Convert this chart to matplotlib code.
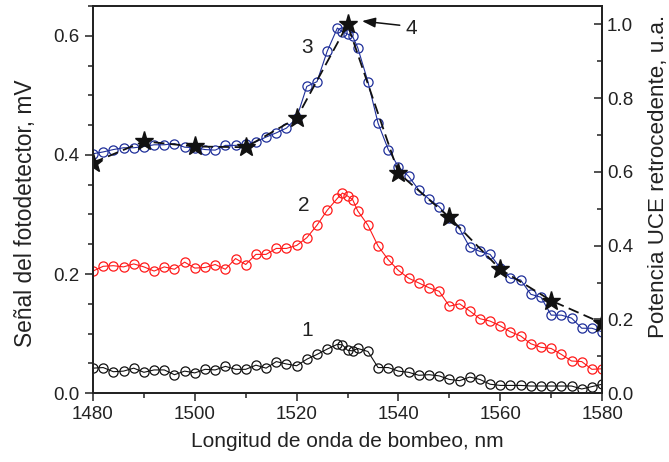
import numpy as np
import matplotlib
matplotlib.use('Agg')
from matplotlib import pyplot as plt
from matplotlib.ticker import MultipleLocator, FormatStrFormatter

plt.rcParams['font.family'] = ['Liberation Sans', 'DejaVu Sans']

# Longitudes de onda de bombeo (nm), mas densas cerca del pico
wl = np.array([1480, 1482, 1484, 1486, 1488, 1490, 1492, 1494, 1496, 1498,
               1500, 1502, 1504, 1506, 1508, 1510, 1512, 1514, 1516, 1518,
               1520, 1522, 1524, 1526, 1528, 1529, 1530, 1531, 1532, 1534,
               1536, 1538, 1540, 1542, 1544, 1546, 1548, 1550, 1552, 1554,
               1556, 1558, 1560, 1562, 1564, 1566, 1568, 1570, 1572, 1574,
               1576, 1578, 1580])

# Curva 1 (negro), mV
senal_1 = [0.042, 0.043, 0.036, 0.037, 0.042, 0.035, 0.039, 0.039, 0.031, 0.037,
           0.034, 0.040, 0.039, 0.045, 0.040, 0.040, 0.047, 0.042, 0.053, 0.049,
           0.046, 0.057, 0.065, 0.074, 0.082, 0.081, 0.072, 0.071, 0.075, 0.070,
           0.043, 0.043, 0.037, 0.035, 0.030, 0.031, 0.029, 0.023, 0.021, 0.027,
           0.023, 0.015, 0.013, 0.013, 0.013, 0.012, 0.012, 0.012, 0.012, 0.012,
           0.007, 0.011, 0.015]

# Curva 2 (rojo), mV
senal_2 = [0.205, 0.213, 0.214, 0.212, 0.217, 0.212, 0.205, 0.212, 0.208, 0.220,
           0.210, 0.211, 0.216, 0.208, 0.226, 0.216, 0.233, 0.233, 0.243, 0.243,
           0.248, 0.261, 0.282, 0.307, 0.327, 0.336, 0.331, 0.325, 0.306, 0.282,
           0.247, 0.224, 0.206, 0.193, 0.185, 0.177, 0.171, 0.146, 0.150, 0.138,
           0.125, 0.121, 0.113, 0.103, 0.096, 0.083, 0.077, 0.075, 0.065, 0.054,
           0.053, 0.040, 0.041]

# Curva 3 (azul), mV
senal_3 = [0.402, 0.405, 0.409, 0.412, 0.412, 0.414, 0.417, 0.417, 0.419, 0.413,
           0.412, 0.409, 0.408, 0.416, 0.416, 0.418, 0.422, 0.430, 0.437, 0.445,
           0.462, 0.515, 0.523, 0.574, 0.613, 0.607, 0.603, 0.599, 0.580, 0.523,
           0.453, 0.409, 0.380, 0.364, 0.341, 0.326, 0.313, 0.294, 0.276, 0.245,
           0.238, 0.233, 0.210, 0.193, 0.190, 0.166, 0.161, 0.131, 0.131, 0.126,
           0.109, 0.109, 0.103]

# Curva 4: potencia UCE retrocedente (u.a.)
wl_uce = [1480, 1490, 1500, 1510, 1520, 1530, 1540, 1550, 1560, 1570, 1580]
pot_uce = [0.625, 0.683, 0.669, 0.667, 0.746, 1.0, 0.597, 0.477, 0.336, 0.251, 0.190]

fig = plt.figure(figsize=(6.69, 4.62), dpi=100)
ax = fig.add_axes([0.139, 0.149, 0.761, 0.838])

circ = dict(marker='o', markersize=6.6, markerfacecolor='none', markeredgewidth=0.9, linewidth=0.8)
ax.plot(wl, senal_1, color='#111111', **circ)
ax.plot(wl, senal_2, color='#ff1a1a', **circ)
ax.plot(wl, senal_3, color='#1f2f9a', **circ)

ax.set_xlim(1480, 1580)
ax.set_ylim(0, 0.65)
ax.xaxis.set_major_locator(MultipleLocator(20))
ax.xaxis.set_minor_locator(MultipleLocator(10))
ax.yaxis.set_major_locator(MultipleLocator(0.2))
ax.yaxis.set_minor_locator(MultipleLocator(0.05))
ax.yaxis.set_major_formatter(FormatStrFormatter('%.1f'))
ax.tick_params(which='both', direction='out', labelsize=13.5, width=1.1,
               top=False, right=False, colors='#222222')
ax.tick_params(which='major', length=6)
ax.tick_params(which='minor', length=3.5)
for s in ax.spines.values():
    s.set_linewidth(1.3)
    s.set_color('#222222')
ax.set_xlabel('Longitud de onda de bombeo, nm', fontsize=15, labelpad=6, color='#222222')
ax.set_ylabel('Señal del fotodetector, mV', fontsize=16.4, color='#222222')
ax.yaxis.set_label_coords(-0.110, 0.465)

ax.text(1522, 0.581, '3', fontsize=15, ha='center', va='center', color='#222222')
ax.text(1521.3, 0.315, '2', fontsize=15, ha='center', va='center', color='#222222')
ax.text(1522, 0.106, '1', fontsize=15, ha='center', va='center', color='#222222')

# Eje derecho para la potencia UCE
ax2 = ax.twinx()
ax2.plot(wl_uce, pot_uce, color='#111111', linestyle=(0, (6, 3)), linewidth=1.3,
         marker='*', markersize=14, markerfacecolor='#111111', markeredgecolor='#111111')
ax2.set_ylim(0, 1.05)
ax2.yaxis.set_major_locator(MultipleLocator(0.2))
ax2.yaxis.set_minor_locator(MultipleLocator(0.1))
ax2.yaxis.set_major_formatter(FormatStrFormatter('%.1f'))
ax2.tick_params(which='both', direction='in', labelsize=13.5, width=1.1, colors='#222222')
ax2.tick_params(which='major', length=6)
ax2.tick_params(which='minor', length=3.5)
for s in ax2.spines.values():
    s.set_linewidth(1.3)
    s.set_color('#222222')
ax2.set_ylabel('Potencia UCE retrocedente, u.a.', fontsize=16.1, color='#222222')
ax2.yaxis.set_label_coords(1.090, 0.561)

ax2.annotate('', xy=(1532.3, 1.01), xytext=(1540.8, 0.997),
             arrowprops=dict(arrowstyle='-|>,head_length=0.8,head_width=0.3', color='#111111', lw=1.1))
ax2.text(1542.6, 0.99, '4', fontsize=15, ha='center', va='center', color='#222222')

plt.savefig('out.png', dpi=100)
